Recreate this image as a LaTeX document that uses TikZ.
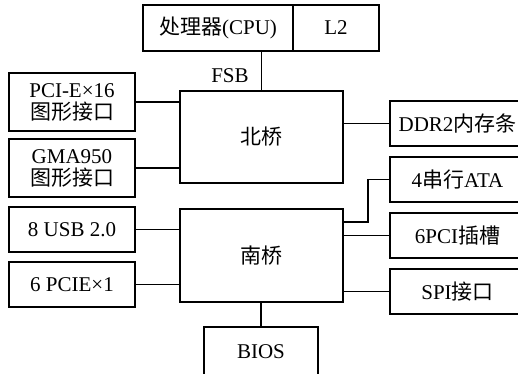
\documentclass[tikz,border=0pt]{standalone}
\usepackage{fontspec}
\setmainfont{Liberation Serif}
\newfontfamily\cjk{Noto Sans CJK SC}
\begin{document}
\begin{tikzpicture}[x=1pt,y=-1pt,
  every node/.style={font=\fontsize{21}{25}\selectfont},
  blk/.style={draw,line width=1.1pt,rectangle,inner sep=0pt,align=center},
  wire/.style={line width=1.1pt}]
\useasboundingbox (0,0) rectangle (518,373);
\clip (0,0) rectangle (518,373);
% top
\node[blk,minimum width=150pt,minimum height=46pt] (cpu) at (218,28) {{\cjk 处理器}(CPU)};
\node[blk,minimum width=86pt,minimum height=46pt] (l2) at (336,28) {L2};
% bridges
\node[blk,minimum width=163pt,minimum height=92pt] (nb) at (261.5,137) {\cjk 北桥};
\node[blk,minimum width=163pt,minimum height=93pt] (sb) at (261.5,255.5) {\cjk 南桥};
% left
\node[blk,minimum width=126pt,minimum height=58pt] (pcie) at (72,102) {PCI-E×16\\[-3pt]{\cjk 图形接口}};
\node[blk,minimum width=126pt,minimum height=58pt] (gma) at (72,168) {GMA950\\[-3pt]{\cjk 图形接口}};
\node[blk,minimum width=126pt,minimum height=45pt] (usb) at (72,229.5) {8 USB 2.0};
\node[blk,minimum width=126pt,minimum height=45pt] (pcix) at (72,284.5) {6 PCIE×1};
% right
\node[blk,minimum width=135pt,minimum height=45pt] (ddr) at (457.5,123.5) {DDR2{\cjk 内存条}};
\node[blk,minimum width=135pt,minimum height=45pt] (ata) at (457.5,179.5) {4{\cjk 串行}ATA};
\node[blk,minimum width=135pt,minimum height=45pt] (pci) at (457.5,235.5) {6PCI{\cjk 插槽}};
\node[blk,minimum width=135pt,minimum height=45pt] (spi) at (457.5,291.5) {SPI{\cjk 接口}};
% bottom
\node[blk,minimum width=114pt,minimum height=50pt] (bios) at (261,352) {BIOS};
% label
\node (fsb) at (230,76) {FSB};
% connectors
\draw[wire] (nb.north |- cpu.south) -- (nb.north);
\draw[wire] (pcie.east) -- (pcie.east -| nb.west);
\draw[wire] (gma.east) -- (gma.east -| nb.west);
\draw[wire] (ddr.west) -- (ddr.west -| nb.east);
\draw[wire] (usb.east) -- (usb.east -| sb.west);
\draw[wire] (pcix.east) -- (pcix.east -| sb.west);
\coordinate (atajoin) at (368,222);
\draw[wire] (ata.west) -| (atajoin) -- (atajoin -| sb.east);
\draw[wire] (pci.west) -- (pci.west -| sb.east);
\draw[wire] (spi.west) -- (spi.west -| sb.east);
\draw[wire] (bios.north |- sb.south) -- (bios.north);
\end{tikzpicture}
\end{document}
